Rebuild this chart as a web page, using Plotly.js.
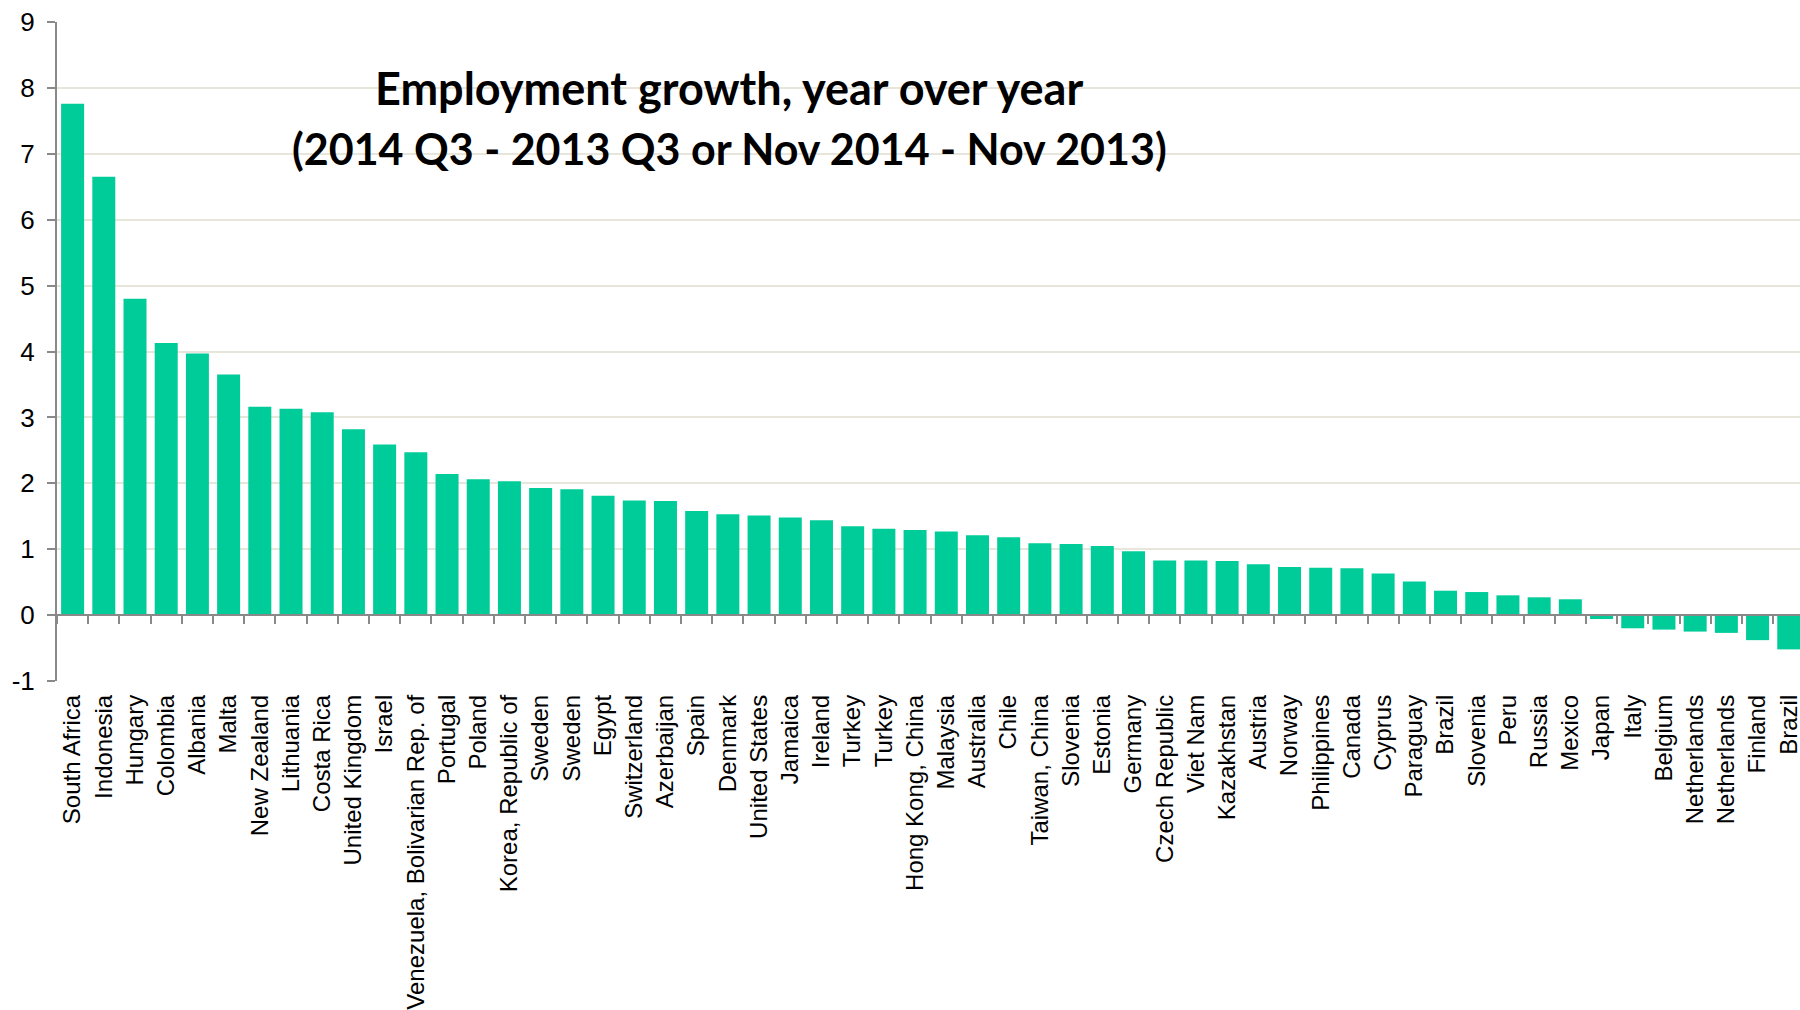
<!DOCTYPE html>
<html>
<head>
<meta charset="utf-8">
<script src="https://cdn.plot.ly/plotly-3.0.1.min.js"></script>
<style>
  html, body { margin: 0; padding: 0; background: #ffffff; }
  #chart { width: 1800px; height: 1010px; }
</style>
</head>
<body>
<div id="chart"></div>
<script>
// Employment growth, year over year, by economy (percent)
const countries = [
  "South Africa", "Indonesia", "Hungary", "Colombia", "Albania", "Malta",
  "New Zealand", "Lithuania", "Costa Rica", "United Kingdom", "Israel",
  "Venezuela, Bolivarian Rep. of", "Portugal", "Poland", "Korea, Republic of",
  "Sweden", "Sweden", "Egypt", "Switzerland", "Azerbaijan", "Spain", "Denmark",
  "United States", "Jamaica", "Ireland", "Turkey", "Turkey", "Hong Kong, China",
  "Malaysia", "Australia", "Chile", "Taiwan, China", "Slovenia", "Estonia",
  "Germany", "Czech Republic", "Viet Nam", "Kazakhstan", "Austria", "Norway",
  "Philippines", "Canada", "Cyprus", "Paraguay", "Brazil", "Slovenia", "Peru",
  "Russia", "Mexico", "Japan", "Italy", "Belgium", "Netherlands", "Netherlands",
  "Finland", "Brazil"
];

const growth = [
  7.76, 6.65, 4.80, 4.13, 3.97, 3.65,
  3.16, 3.13, 3.08, 2.82, 2.59,
  2.47, 2.14, 2.06, 2.03,
  1.93, 1.91, 1.81, 1.74, 1.73, 1.58, 1.53,
  1.51, 1.48, 1.44, 1.35, 1.31, 1.29,
  1.27, 1.21, 1.18, 1.09, 1.08, 1.05,
  0.97, 0.83, 0.83, 0.82, 0.77, 0.73,
  0.72, 0.71, 0.63, 0.51, 0.37, 0.35, 0.30,
  0.27, 0.24, -0.06, -0.20, -0.22, -0.25, -0.27,
  -0.38, -0.52
];

const yTicks = [-1, 0, 1, 2, 3, 4, 5, 6, 7, 8, 9];
const yTickLabels = ["-1", "0", "1", "2", "3", "4", "5", "6", "7", "8", "9"];

const titleLines = [
  "Employment growth, year over year",
  "(2014 Q3 - 2013 Q3 or Nov 2014 - Nov 2013)"
];

// Several countries appear twice, so positions are numeric and labelled by index
const positions = countries.map((_, i) => i);
const boundaries = countries.map((_, i) => i - 0.5).concat([countries.length - 0.5]);

const axisGray = "#898989";
const xRange = [-0.5, 55.36];

const traces = [
  {
    type: "bar",
    x: positions,
    y: growth,
    marker: { color: "#00cc99" },
    hoverinfo: "x+y",
    showlegend: false
  },
  {
    // carries the zero-line axis with its category tick marks
    type: "scatter",
    mode: "markers",
    x: [],
    y: [],
    xaxis: "x2",
    yaxis: "y",
    showlegend: false,
    hoverinfo: "skip"
  }
];

const layout = {
  width: 1800,
  height: 1010,
  paper_bgcolor: "#ffffff",
  plot_bgcolor: "#ffffff",
  margin: { l: 56.6, r: 0, t: 22, b: 329.3, pad: 0 },
  bargap: 0.263,
  font: { family: "Liberation Sans, Arial, sans-serif", color: "#000000", size: 24 },
  xaxis: {
    range: xRange,
    tickmode: "array",
    tickvals: positions,
    ticktext: countries,
    tickangle: -90,
    ticks: "",
    showline: false,
    showgrid: false,
    zeroline: false,
    automargin: false,
    ticklabelstandoff: 8,
    ticklabeloverflow: "allow",
    tickfont: { family: "Liberation Sans, Arial, sans-serif", size: 24, color: "#000000" }
  },
  xaxis2: {
    overlaying: "x",
    anchor: "free",
    position: 0.1,
    side: "bottom",
    range: xRange,
    tickmode: "array",
    tickvals: boundaries,
    showticklabels: false,
    ticks: "outside",
    ticklen: 8,
    tickwidth: 2,
    tickcolor: axisGray,
    showline: true,
    linecolor: axisGray,
    linewidth: 2,
    showgrid: false,
    zeroline: false
  },
  yaxis: {
    range: [-1, 9],
    tickmode: "array",
    tickvals: yTicks,
    ticktext: yTickLabels,
    ticks: "outside",
    ticklen: 8,
    tickwidth: 2,
    tickcolor: axisGray,
    showline: true,
    linecolor: axisGray,
    linewidth: 2,
    showgrid: true,
    gridcolor: "#e8e5da",
    gridwidth: 2,
    zeroline: false,
    automargin: false,
    ticklabelstandoff: 7,
    tickfont: { family: "Liberation Sans, Arial, sans-serif", size: 26, color: "#000000" }
  },
  annotations: [
    {
      xref: "paper", yref: "paper",
      x: 0.3857, y: 0.900,
      xanchor: "center", yanchor: "middle",
      text: titleLines[0],
      showarrow: false,
      font: { family: "Lato, sans-serif", size: 45, weight: 700, color: "#000000" }
    },
    {
      xref: "paper", yref: "paper",
      x: 0.3857, y: 0.808,
      xanchor: "center", yanchor: "middle",
      text: titleLines[1],
      showarrow: false,
      font: { family: "Lato, sans-serif", size: 43, weight: 700, color: "#000000" }
    }
  ]
};

Plotly.newPlot("chart", traces, layout, { displayModeBar: false, staticPlot: true });
</script>
</body>
</html>
